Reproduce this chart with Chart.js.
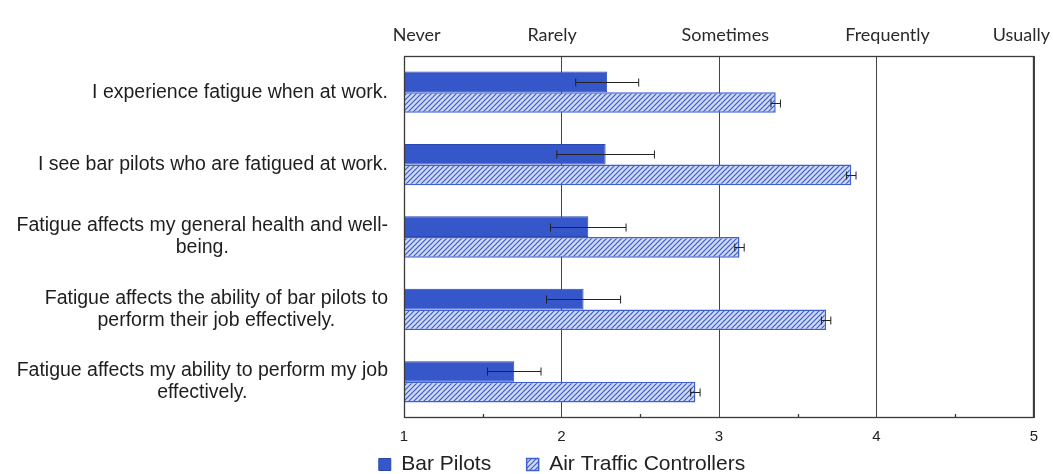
<!DOCTYPE html>
<html>
<head>
<meta charset="utf-8">
<script src="https://cdn.jsdelivr.net/npm/chart.js@4"></script>
<style>
  html, body { margin: 0; padding: 0; background: #fff; }
  #wrap { width: 1053px; height: 474px; position: relative; }
</style>
</head>
<body>
<div id="wrap"><canvas id="myChart"></canvas></div>
<script>
// data
var categories = [
  ["I experience fatigue when at work."],
  ["I see bar pilots who are fatigued at work."],
  ["Fatigue affects my general health and well-", "being."],
  ["Fatigue affects the ability of bar pilots to", "perform their job effectively."],
  ["Fatigue affects my ability to perform my job", "effectively."]
];
var barPilots = [2.29, 2.28, 2.17, 2.14, 1.70];
var barPilotsErr = [0.20, 0.31, 0.24, 0.235, 0.17];
var atc = [3.36, 3.84, 3.13, 3.68, 2.85];
var atcErr = [0.03, 0.03, 0.03, 0.03, 0.03];
var freqLabels = ["Never", "Rarely", "Sometimes", "Frequently", "Usually"];
var freqPos = [1.08, 1.94, 3.04, 4.07, 4.92];
var minorTicks = [1.5, 2.5, 3.5, 4.5];

function hatch() {
  var c = document.createElement('canvas');
  c.width = 5; c.height = 5;
  var g = c.getContext('2d');
  g.fillStyle = '#cdd9f5';
  g.fillRect(0, 0, 5, 5);
  g.strokeStyle = '#3d5cc8';
  g.lineWidth = 1.2;
  g.beginPath();
  g.moveTo(-1, 6); g.lineTo(6, -1);
  g.moveTo(-1, 1); g.lineTo(1, -1);
  g.moveTo(4, 6); g.lineTo(6, 4);
  g.stroke();
  return g.createPattern(c, 'repeat');
}

var extras = {
  id: 'extras',
  afterDatasetsDraw: function(chart) {
    var ctx = chart.ctx, x = chart.scales.x, y = chart.scales.y, a = chart.chartArea;
    ctx.save();

    // error bars
    [barPilotsErr, atcErr].forEach(function(errs, di) {
      var vals = chart.data.datasets[di].data;
      chart.getDatasetMeta(di).data.forEach(function(bar, i) {
        var lo = x.getPixelForValue(vals[i] - errs[i]);
        var hi = x.getPixelForValue(vals[i] + errs[i]);
        var py = Math.round(bar.y) + 0.5;
        ctx.strokeStyle = '#222';
        ctx.lineWidth = 1;
        ctx.beginPath();
        ctx.moveTo(lo, py); ctx.lineTo(hi, py);
        ctx.moveTo(lo, py - 4); ctx.lineTo(lo, py + 4);
        ctx.moveTo(hi, py - 4); ctx.lineTo(hi, py + 4);
        ctx.stroke();
      });
    });

    // frame
    ctx.strokeStyle = '#3a3a3a';
    ctx.lineWidth = 1.3;
    ctx.strokeRect(Math.round(a.left) + 0.5, Math.round(a.top) + 0.5,
                   Math.round(a.width) - 1, Math.round(a.height) - 1);

    // minor ticks on the bottom edge
    ctx.beginPath();
    minorTicks.forEach(function(v) {
      var px = Math.round(x.getPixelForValue(v)) + 0.5;
      ctx.moveTo(px, a.bottom); ctx.lineTo(px, a.bottom - 4);
    });
    ctx.stroke();

    // category labels, block right-aligned, lines centred in the block
    ctx.fillStyle = '#1e1e1e';
    ctx.font = '19.5px "Liberation Sans", Arial, sans-serif';
    ctx.textBaseline = 'middle';
    ctx.textAlign = 'center';
    var right = a.left - 16, lh = 22;
    categories.forEach(function(lines, i) {
      var cy = y.getPixelForValue(i);
      var w = Math.max.apply(null, lines.map(function(t) { return ctx.measureText(t).width; }));
      var cx = right - w / 2;
      var y0 = cy - (lines.length - 1) * lh / 2;
      lines.forEach(function(t, k) { ctx.fillText(t, cx, y0 + k * lh); });
    });

    // frequency labels across the top
    ctx.fillStyle = '#2a2a2a';
    ctx.font = '18px Lato, "Open Sans", sans-serif';
    freqLabels.forEach(function(t, i) {
      ctx.fillText(t, x.getPixelForValue(freqPos[i]), a.top - 21);
    });
    ctx.restore();
  }
};

var ctx = document.getElementById('myChart').getContext('2d');
var myChart = new Chart(ctx, {
  type: 'bar',
  data: {
    labels: categories,
    datasets: [{
      label: 'Bar Pilots',
      data: barPilots,
      base: 1,
      backgroundColor: '#3557c9',
      borderColor: '#2a47b0',
      borderWidth: 1
    }, {
      label: 'Air Traffic Controllers',
      data: atc,
      base: 1,
      backgroundColor: hatch(),
      borderColor: '#4060cf',
      borderWidth: 1.5
    }]
  },
  options: {
    indexAxis: 'y',
    responsive: true,
    maintainAspectRatio: false,
    animation: false,
    layout: { padding: { left: 90, right: 19, top: 56, bottom: -11 } },
    categoryPercentage: 0.57,
    barPercentage: 1.0,
    scales: {
      x: {
        min: 1, max: 5,
        afterFit: function(scale) { scale.height -= 6; },
        ticks: {
          stepSize: 1,
          color: '#222',
          padding: 10,
          font: { family: '"Liberation Sans", Arial, sans-serif', size: 15 }
        },
        grid: { color: '#444', lineWidth: 1, drawTicks: false },
        border: { display: false }
      },
      y: {
        afterFit: function(scale) { scale.width = 314; },
        ticks: { display: false },
        grid: { display: false },
        border: { display: false }
      }
    },
    plugins: {
      legend: {
        position: 'bottom',
        labels: {
          color: '#222',
          boxWidth: 12,
          boxHeight: 12,
          padding: 4,
          font: { family: '"Liberation Sans", Arial, sans-serif', size: 21 },
          generateLabels: function(chart) {
            var items = Chart.defaults.plugins.legend.labels.generateLabels(chart);
            items.forEach(function(it, i) {
              if (i < items.length - 1) it.text = it.text + '\u2003\u2002';
            });
            return items;
          }
        }
      },
      tooltip: { enabled: false }
    }
  },
  plugins: [extras]
});
</script>
</body>
</html>
